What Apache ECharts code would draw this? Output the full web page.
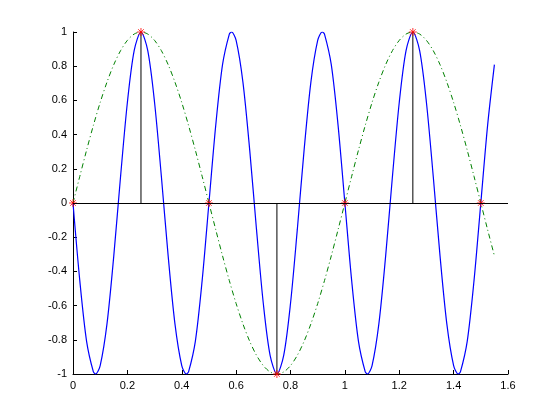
<!DOCTYPE html>
<html>
<head>
<meta charset="utf-8">
<script src="https://cdn.jsdelivr.net/npm/echarts@6/dist/echarts.min.js"></script>
<style>
  html, body { margin: 0; padding: 0; background: #fff; }
  #chart { width: 560px; height: 420px; }
</style>
</head>
<body>
<div id="chart"></div>
<script>
// time axis for the blue curve (extra points at its peaks)
var tFast = [0, 0.025, 0.05, 0.075, 0.0833, 0.1, 0.125, 0.15, 0.175, 0.2, 0.225,
    0.25, 0.275, 0.3, 0.325, 0.35, 0.375, 0.4, 0.4167, 0.425, 0.45, 0.475,
    0.5, 0.525, 0.55, 0.575, 0.5833, 0.6, 0.625, 0.65, 0.675, 0.7, 0.725,
    0.75, 0.775, 0.8, 0.825, 0.85, 0.875, 0.9, 0.9167, 0.925, 0.95, 0.975,
    1, 1.025, 1.05, 1.075, 1.0833, 1.1, 1.125, 1.15, 1.175, 1.2, 1.225,
    1.25, 1.275, 1.3, 1.325, 1.35, 1.375, 1.4, 1.4167, 1.425, 1.45, 1.475,
    1.5, 1.525, 1.55];
var fastWave = [0, -0.454, -0.809, -0.988, -1, -0.951, -0.707, -0.309, 0.156, 0.588, 0.891,
    1, 0.891, 0.588, 0.156, -0.309, -0.707, -0.951, -1, -0.988, -0.809, -0.454,
    0, 0.454, 0.809, 0.988, 1, 0.951, 0.707, 0.309, -0.156, -0.588, -0.891,
    -1, -0.891, -0.588, -0.156, 0.309, 0.707, 0.951, 1, 0.988, 0.809, 0.454,
    0, -0.454, -0.809, -0.988, -1, -0.951, -0.707, -0.309, 0.156, 0.588, 0.891,
    1, 0.891, 0.588, 0.156, -0.309, -0.707, -0.951, -1, -0.988, -0.809, -0.454,
    0, 0.454, 0.809];
// time axis for the green curve
var tSlow = [0, 0.025, 0.05, 0.075, 0.1, 0.125, 0.15, 0.175, 0.2, 0.225,
    0.25, 0.275, 0.3, 0.325, 0.35, 0.375, 0.4, 0.425, 0.45, 0.475,
    0.5, 0.525, 0.55, 0.575, 0.6, 0.625, 0.65, 0.675, 0.7, 0.725,
    0.75, 0.775, 0.8, 0.825, 0.85, 0.875, 0.9, 0.925, 0.95, 0.975,
    1, 1.025, 1.05, 1.075, 1.1, 1.125, 1.15, 1.175, 1.2, 1.225,
    1.25, 1.275, 1.3, 1.325, 1.35, 1.375, 1.4, 1.425, 1.45, 1.475,
    1.5, 1.525, 1.55];
var slowWave = [0, 0.156, 0.309, 0.454, 0.588, 0.707, 0.809, 0.891, 0.951, 0.988,
    1, 0.988, 0.951, 0.891, 0.809, 0.707, 0.588, 0.454, 0.309, 0.156,
    0, -0.156, -0.309, -0.454, -0.588, -0.707, -0.809, -0.891, -0.951, -0.988,
    -1, -0.988, -0.951, -0.891, -0.809, -0.707, -0.588, -0.454, -0.309, -0.156,
    0, 0.156, 0.309, 0.454, 0.588, 0.707, 0.809, 0.891, 0.951, 0.988,
    1, 0.988, 0.951, 0.891, 0.809, 0.707, 0.588, 0.454, 0.309, 0.156,
    0, -0.156, -0.309];
// samples (stems + red stars)
var sampleT = [0, 0.25, 0.5, 0.75, 1, 1.25, 1.5];
var sampleY = [0, 1, 0, -1, 0, 1, 0];

var chart = echarts.init(document.getElementById('chart'));

var zip = function (xs, ys) {
    return xs.map(function (x, i) { return [x, ys[i]]; });
};

var series = [
    {
        type: 'line',
        data: zip(tFast, fastWave),
        smooth: 0.3,
        showSymbol: false,
        lineStyle: { color: '#0000ff', width: 1.2 },
        z: 2
    },
    {
        type: 'line',
        data: zip(tSlow, slowWave),
        smooth: 0.3,
        showSymbol: false,
        lineStyle: { color: '#008000', width: 1, type: [5, 3, 1, 3] },
        z: 2
    }
];

// one black stem per sample
sampleT.forEach(function (x, i) {
    series.push({
        type: 'line',
        data: [[x, 0], [x, sampleY[i]]],
        showSymbol: false,
        lineStyle: { color: '#000', width: 1 },
        z: 3
    });
});

// baseline
series.push({
    type: 'line',
    data: [],
    markLine: {
        silent: true,
        symbol: 'none',
        label: { show: false },
        lineStyle: { color: '#000', width: 1, type: 'solid' },
        data: [{ yAxis: 0 }]
    },
    z: 3
});

series.push({
    type: 'scatter',
    data: zip(sampleT, sampleY),
    symbol: 'path://M5 0L5 10M0 5L10 5M1.5 1.5L8.5 8.5M8.5 1.5L1.5 8.5',
    symbolSize: 8,
    itemStyle: { color: 'none', borderColor: '#ff0000', borderWidth: 1 },
    z: 4
});

var axisLabel = { color: '#000', fontSize: 11, fontFamily: 'Liberation Sans', margin: 6 };

option = {
    animation: false,
    grid: { left: 73, right: 52, top: 32, bottom: 46 },
    xAxis: {
        type: 'value',
        min: 0, max: 1.6, interval: 0.2,
        axisLine: { onZero: false, lineStyle: { color: '#000', width: 1 } },
        axisTick: { inside: true, length: 4, lineStyle: { color: '#000' } },
        axisLabel: axisLabel,
        splitLine: { show: false }
    },
    yAxis: {
        type: 'value',
        min: -1, max: 1, interval: 0.2,
        axisLine: { show: true, onZero: false, lineStyle: { color: '#000', width: 1 } },
        axisTick: { show: true, inside: true, length: 4, lineStyle: { color: '#000' } },
        axisLabel: axisLabel,
        splitLine: { show: false }
    },
    series: series
};

chart.setOption(option);
</script>
</body>
</html>
